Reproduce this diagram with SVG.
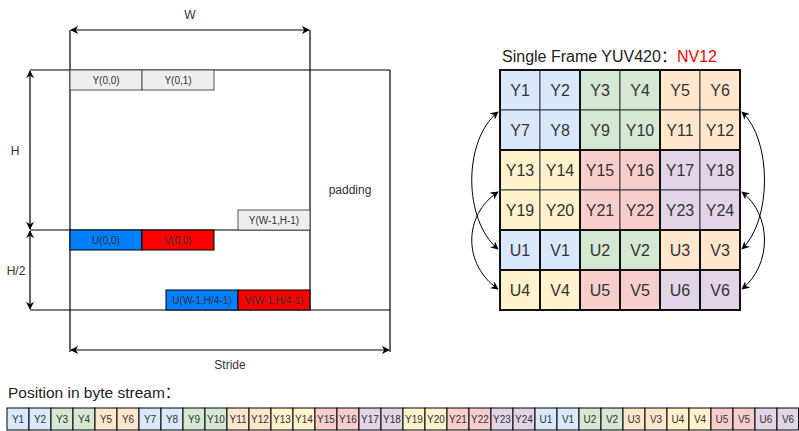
<svg xmlns="http://www.w3.org/2000/svg" width="799" height="431" viewBox="0 0 799 431">
<style>
text{font-family:"Liberation Sans",Arial,"Noto Sans CJK SC",sans-serif;fill:#333;text-anchor:middle}
.ln{stroke:#000;stroke-width:1.2;fill:none}
.lab{font-size:12px}
.sm{font-size:10px}
.gbox{fill:#eeeeee;stroke:#555;stroke-width:1}
.ubox{fill:#007fff;stroke:#000;stroke-width:1}
.vbox{fill:#ff0000;stroke:#000;stroke-width:1}
.c{stroke:#36393d;stroke-width:1}
.blk{fill:none;stroke:#111;stroke-width:2}
.ct{font-size:16px}
.st{font-size:10px}
.b{fill:#dae8fc}.g{fill:#d5e8d4}.o{fill:#ffe6cc}.y{fill:#fff2cc}.r{fill:#f8cecc}.p{fill:#e1d5e7}
.cv{stroke:#000;stroke-width:1;fill:none;marker-start:url(#as);marker-end:url(#ae)}
</style>
<defs>
<marker id="ae" viewBox="0 0 10 10" refX="9" refY="5" markerWidth="8" markerHeight="8" markerUnits="userSpaceOnUse" orient="auto"><path d="M0,0 L10,5 L0,10 L3,5 z" fill="#000"/></marker>
<marker id="as" viewBox="0 0 10 10" refX="1" refY="5" markerWidth="8" markerHeight="8" markerUnits="userSpaceOnUse" orient="auto"><path d="M10,0 L0,5 L10,10 L7,5 z" fill="#000"/></marker>
</defs>
<rect width="799" height="431" fill="#fff"/>

<!-- Left memory layout -->
<g id="frame-lines">
<line class="ln" x1="30" y1="70" x2="390" y2="70"/>
<line class="ln" x1="30" y1="310" x2="390" y2="310"/>
<line class="ln" x1="30" y1="230" x2="310" y2="230"/>
<line class="ln" x1="70" y1="30" x2="70" y2="352"/>
<line class="ln" x1="310" y1="30" x2="310" y2="310"/>
<line class="ln" x1="390" y1="70" x2="390" y2="352"/>
</g>
<g id="dims">
<line class="ln" x1="71" y1="30" x2="309" y2="30" marker-start="url(#as)" marker-end="url(#ae)"/>
<line class="ln" x1="71" y1="350" x2="389" y2="350" marker-start="url(#as)" marker-end="url(#ae)"/>
<line class="ln" x1="30" y1="71" x2="30" y2="229" marker-start="url(#as)" marker-end="url(#ae)"/>
<line class="ln" x1="30" y1="231" x2="30" y2="309" marker-start="url(#as)" marker-end="url(#ae)"/>
<text class="lab" x="190" y="19">W</text>
<text class="lab" x="15" y="155">H</text>
<text class="lab" x="16" y="275">H/2</text>
<text class="lab" x="230" y="369">Stride</text>
<text class="lab" x="350" y="194">padding</text>
</g>
<g id="y00"><rect class="gbox" x="70" y="70" width="72" height="20"/><text class="sm" x="106" y="84">Y(0,0)</text></g>
<g id="y01"><rect class="gbox" x="142" y="70" width="72" height="20"/><text class="sm" x="178" y="84">Y(0,1)</text></g>
<g id="ylast"><rect class="gbox" x="238" y="210" width="72" height="20"/><text class="sm" x="274" y="224">Y(W-1,H-1)</text></g>
<g id="u00"><rect class="ubox" x="70" y="230" width="72" height="20"/><text class="sm" x="106" y="244">U(0,0)</text></g>
<g id="v00"><rect class="vbox" x="142" y="230" width="72" height="20"/><text class="sm" x="178" y="244">V(0,0)</text></g>
<g id="ulast"><rect class="ubox" x="166" y="290" width="72" height="20"/><text class="sm" x="202" y="304">U(W-1,H/4-1)</text></g>
<g id="vlast"><rect class="vbox" x="238" y="290" width="72" height="20"/><text class="sm" x="274" y="304">V(W-1,H/4-1)</text></g>

<!-- Right grid -->
<g id="title"><text x="502" y="62" style="font-size:16px;text-anchor:start;fill:#222">Single Frame YUV420：<tspan style="fill:#ff0000">NV12</tspan></text></g>
<g id="grid">
<g id="r0">
<rect class="c b" x="500" y="70" width="40" height="40"/><text class="ct" x="520" y="96">Y1</text>
<rect class="c b" x="540" y="70" width="40" height="40"/><text class="ct" x="560" y="96">Y2</text>
<rect class="c g" x="580" y="70" width="40" height="40"/><text class="ct" x="600" y="96">Y3</text>
<rect class="c g" x="620" y="70" width="40" height="40"/><text class="ct" x="640" y="96">Y4</text>
<rect class="c o" x="660" y="70" width="40" height="40"/><text class="ct" x="680" y="96">Y5</text>
<rect class="c o" x="700" y="70" width="40" height="40"/><text class="ct" x="720" y="96">Y6</text>
</g>
<g id="r1">
<rect class="c b" x="500" y="110" width="40" height="40"/><text class="ct" x="520" y="136">Y7</text>
<rect class="c b" x="540" y="110" width="40" height="40"/><text class="ct" x="560" y="136">Y8</text>
<rect class="c g" x="580" y="110" width="40" height="40"/><text class="ct" x="600" y="136">Y9</text>
<rect class="c g" x="620" y="110" width="40" height="40"/><text class="ct" x="640" y="136">Y10</text>
<rect class="c o" x="660" y="110" width="40" height="40"/><text class="ct" x="680" y="136">Y11</text>
<rect class="c o" x="700" y="110" width="40" height="40"/><text class="ct" x="720" y="136">Y12</text>
</g>
<g id="r2">
<rect class="c y" x="500" y="150" width="40" height="40"/><text class="ct" x="520" y="176">Y13</text>
<rect class="c y" x="540" y="150" width="40" height="40"/><text class="ct" x="560" y="176">Y14</text>
<rect class="c r" x="580" y="150" width="40" height="40"/><text class="ct" x="600" y="176">Y15</text>
<rect class="c r" x="620" y="150" width="40" height="40"/><text class="ct" x="640" y="176">Y16</text>
<rect class="c p" x="660" y="150" width="40" height="40"/><text class="ct" x="680" y="176">Y17</text>
<rect class="c p" x="700" y="150" width="40" height="40"/><text class="ct" x="720" y="176">Y18</text>
</g>
<g id="r3">
<rect class="c y" x="500" y="190" width="40" height="40"/><text class="ct" x="520" y="216">Y19</text>
<rect class="c y" x="540" y="190" width="40" height="40"/><text class="ct" x="560" y="216">Y20</text>
<rect class="c r" x="580" y="190" width="40" height="40"/><text class="ct" x="600" y="216">Y21</text>
<rect class="c r" x="620" y="190" width="40" height="40"/><text class="ct" x="640" y="216">Y22</text>
<rect class="c p" x="660" y="190" width="40" height="40"/><text class="ct" x="680" y="216">Y23</text>
<rect class="c p" x="700" y="190" width="40" height="40"/><text class="ct" x="720" y="216">Y24</text>
</g>
<g id="r4">
<rect class="c b" x="500" y="230" width="40" height="40"/><text class="ct" x="520" y="256">U1</text>
<rect class="c b" x="540" y="230" width="40" height="40"/><text class="ct" x="560" y="256">V1</text>
<rect class="c g" x="580" y="230" width="40" height="40"/><text class="ct" x="600" y="256">U2</text>
<rect class="c g" x="620" y="230" width="40" height="40"/><text class="ct" x="640" y="256">V2</text>
<rect class="c o" x="660" y="230" width="40" height="40"/><text class="ct" x="680" y="256">U3</text>
<rect class="c o" x="700" y="230" width="40" height="40"/><text class="ct" x="720" y="256">V3</text>
</g>
<g id="r5">
<rect class="c y" x="500" y="270" width="40" height="40"/><text class="ct" x="520" y="296">U4</text>
<rect class="c y" x="540" y="270" width="40" height="40"/><text class="ct" x="560" y="296">V4</text>
<rect class="c r" x="580" y="270" width="40" height="40"/><text class="ct" x="600" y="296">U5</text>
<rect class="c r" x="620" y="270" width="40" height="40"/><text class="ct" x="640" y="296">V5</text>
<rect class="c p" x="660" y="270" width="40" height="40"/><text class="ct" x="680" y="296">U6</text>
<rect class="c p" x="700" y="270" width="40" height="40"/><text class="ct" x="720" y="296">V6</text>
</g>
<g id="blocks">
<rect class="blk" x="500" y="70" width="80" height="80"/>
<rect class="blk" x="580" y="70" width="80" height="80"/>
<rect class="blk" x="660" y="70" width="80" height="80"/>
<rect class="blk" x="500" y="150" width="80" height="80"/>
<rect class="blk" x="580" y="150" width="80" height="80"/>
<rect class="blk" x="660" y="150" width="80" height="80"/>
<rect class="blk" x="500" y="230" width="40" height="40"/><rect class="blk" x="540" y="230" width="40" height="40"/>
<rect class="blk" x="580" y="230" width="40" height="40"/><rect class="blk" x="620" y="230" width="40" height="40"/>
<rect class="blk" x="660" y="230" width="40" height="40"/><rect class="blk" x="700" y="230" width="40" height="40"/>
<rect class="blk" x="500" y="270" width="40" height="40"/><rect class="blk" x="540" y="270" width="40" height="40"/>
<rect class="blk" x="580" y="270" width="40" height="40"/><rect class="blk" x="620" y="270" width="40" height="40"/>
<rect class="blk" x="660" y="270" width="40" height="40"/><rect class="blk" x="700" y="270" width="40" height="40"/>
</g>
</g>
<g id="connectors">
<path class="cv" d="M498,112 C463,140 463,220 498,249"/>
<path class="cv" d="M498,192 C463,215 463,265 498,289"/>
<path class="cv" d="M742,112 C772,140 772,220 742,249"/>
<path class="cv" d="M742,192 C772,215 772,265 742,289"/>
</g>

<!-- Byte stream -->
<g id="stream-title"><text x="8" y="398" style="font-size:15.5px;text-anchor:start;fill:#222">Position in byte stream：</text></g>
<g id="stream">
<g style="stroke:#000;stroke-width:1">
<rect class="b" x="7" y="408" width="22" height="22"/><rect class="b" x="29" y="408" width="22" height="22"/>
<rect class="g" x="51" y="408" width="22" height="22"/><rect class="g" x="73" y="408" width="22" height="22"/>
<rect class="o" x="95" y="408" width="22" height="22"/><rect class="o" x="117" y="408" width="22" height="22"/>
<rect class="b" x="139" y="408" width="22" height="22"/><rect class="b" x="161" y="408" width="22" height="22"/>
<rect class="g" x="183" y="408" width="22" height="22"/><rect class="g" x="205" y="408" width="22" height="22"/>
<rect class="o" x="227" y="408" width="22" height="22"/><rect class="o" x="249" y="408" width="22" height="22"/>
<rect class="y" x="271" y="408" width="22" height="22"/><rect class="y" x="293" y="408" width="22" height="22"/>
<rect class="r" x="315" y="408" width="22" height="22"/><rect class="r" x="337" y="408" width="22" height="22"/>
<rect class="p" x="359" y="408" width="22" height="22"/><rect class="p" x="381" y="408" width="22" height="22"/>
<rect class="y" x="403" y="408" width="22" height="22"/><rect class="y" x="425" y="408" width="22" height="22"/>
<rect class="r" x="447" y="408" width="22" height="22"/><rect class="r" x="469" y="408" width="22" height="22"/>
<rect class="p" x="491" y="408" width="22" height="22"/><rect class="p" x="513" y="408" width="22" height="22"/>
<rect class="b" x="535" y="408" width="22" height="22"/><rect class="b" x="557" y="408" width="22" height="22"/>
<rect class="g" x="579" y="408" width="22" height="22"/><rect class="g" x="601" y="408" width="22" height="22"/>
<rect class="o" x="623" y="408" width="22" height="22"/><rect class="o" x="645" y="408" width="22" height="22"/>
<rect class="y" x="667" y="408" width="22" height="22"/><rect class="y" x="689" y="408" width="22" height="22"/>
<rect class="r" x="711" y="408" width="22" height="22"/><rect class="r" x="733" y="408" width="22" height="22"/>
<rect class="p" x="755" y="408" width="22" height="22"/><rect class="p" x="777" y="408" width="21.5" height="22"/>
</g>
<g class="st">
<text class="st" x="18" y="423">Y1</text><text class="st" x="40" y="423">Y2</text><text class="st" x="62" y="423">Y3</text><text class="st" x="84" y="423">Y4</text>
<text class="st" x="106" y="423">Y5</text><text class="st" x="128" y="423">Y6</text><text class="st" x="150" y="423">Y7</text><text class="st" x="172" y="423">Y8</text>
<text class="st" x="194" y="423">Y9</text><text class="st" x="216" y="423">Y10</text><text class="st" x="238" y="423">Y11</text><text class="st" x="260" y="423">Y12</text>
<text class="st" x="282" y="423">Y13</text><text class="st" x="304" y="423">Y14</text><text class="st" x="326" y="423">Y15</text><text class="st" x="348" y="423">Y16</text>
<text class="st" x="370" y="423">Y17</text><text class="st" x="392" y="423">Y18</text><text class="st" x="414" y="423">Y19</text><text class="st" x="436" y="423">Y20</text>
<text class="st" x="458" y="423">Y21</text><text class="st" x="480" y="423">Y22</text><text class="st" x="502" y="423">Y23</text><text class="st" x="524" y="423">Y24</text>
<text class="st" x="546" y="423">U1</text><text class="st" x="568" y="423">V1</text><text class="st" x="590" y="423">U2</text><text class="st" x="612" y="423">V2</text>
<text class="st" x="634" y="423">U3</text><text class="st" x="656" y="423">V3</text><text class="st" x="678" y="423">U4</text><text class="st" x="700" y="423">V4</text>
<text class="st" x="722" y="423">U5</text><text class="st" x="744" y="423">V5</text><text class="st" x="766" y="423">U6</text><text class="st" x="788" y="423">V6</text>
</g>
</g>
</svg>
